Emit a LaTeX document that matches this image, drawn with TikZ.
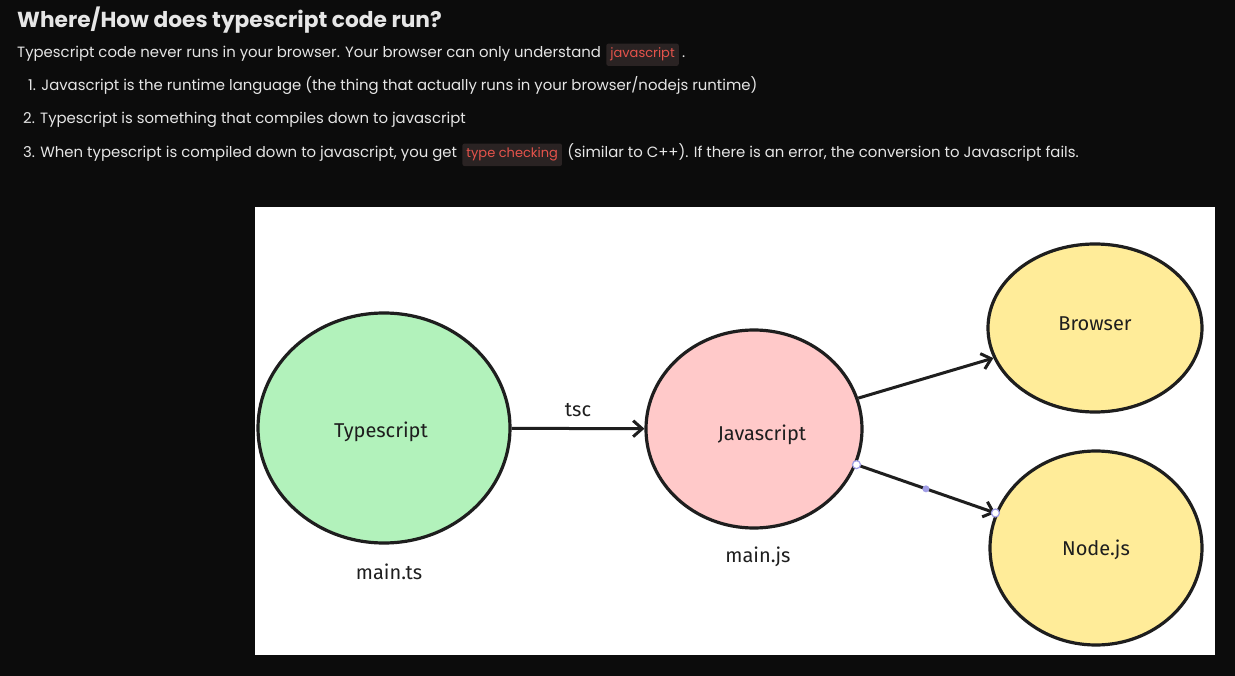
\documentclass[tikz,border=0pt]{standalone}
\usepackage{fontspec}
\setmainfont{Poppins}
\newfontfamily\handfont{Fira Sans}
\usetikzlibrary{arrows.meta,shapes.geometric}
\definecolor{bg}{HTML}{0C0C0C}
\definecolor{txt}{HTML}{E6E6E6}
\definecolor{chipbg}{HTML}{2A2323}
\definecolor{chiptx}{HTML}{E5534B}
\definecolor{ink}{HTML}{1E1E1E}
\definecolor{green}{HTML}{B2F2BB}
\definecolor{pink}{HTML}{FFC9C9}
\definecolor{yellow}{HTML}{FFEC99}
\definecolor{handle}{HTML}{A19EE6}
\tikzset{
  para/.style={anchor=base west, inner sep=0pt, text=txt, font=\fontsize{14.9}{16}\selectfont},
  chip/.style={anchor=base west, fill=chipbg, text=chiptx, rounded corners=2pt, inner xsep=4pt, inner ysep=4.5pt, font=\fontsize{13}{15}\selectfont},
  bubble/.style={ellipse, draw=ink, line width=3.2pt, inner sep=0pt},
  hand/.style={font=\handfont\fontsize{20}{22}\selectfont, text=ink, inner sep=0pt},
  arr/.style={draw=ink, line width=3pt, -{Straight Barb[length=9pt,width=16pt,line width=3pt]}},
  handlept/.style={circle, draw=handle, fill=white, line width=1.2pt, inner sep=0pt, minimum size=8pt},
  handlemid/.style={circle, fill=handle, inner sep=0pt, minimum size=7pt}
}
\begin{document}
\begin{tikzpicture}[x=1pt,y=-1pt]
\fill[bg] (0,0) rectangle (1235,676);
\useasboundingbox (0,0) rectangle (1235,676);
% heading text
\node[anchor=base west, inner sep=0pt, text=txt, font=\fontsize{21.7}{24}\selectfont\bfseries] (title) at (17,28) {Where/How does typescript code run?};
\node[para] (p1) at (17,58) {Typescript code never runs in your browser. Your browser can only understand};
\node[chip] (c1) at ([xshift=5pt]p1.base east) {javascript};
\node[para] (p1b) at ([xshift=3pt]c1.base east) {.};
\node[para] (l1) at (28,91) {1. Javascript is the runtime language (the thing that actually runs in your browser/nodejs runtime)};
\node[para] (l2) at (23,124) {2. Typescript is something that compiles down to javascript};
\node[para] (l3) at (23,158) {3. When typescript is compiled down to javascript, you get};
\node[chip] (c3) at ([xshift=5pt]l3.base east) {type checking};
\node[para] (l3b) at ([xshift=5pt]c3.base east) {(similar to C++). If there is an error, the conversion to Javascript fails.};
% white canvas
\fill[white] (255,207) rectangle (1215,655);
% bubbles
\node[bubble, fill=green, minimum width=252pt, minimum height=230pt] (ts) at (384,428) {};
\node[bubble, fill=pink, minimum width=216pt, minimum height=198pt] (js) at (754,429) {};
\node[bubble, fill=yellow, minimum width=214pt, minimum height=168pt] (br) at (1095,328) {};
\node[bubble, fill=yellow, minimum width=212pt, minimum height=194pt] (nj) at (1096,548) {};
% labels
\node[hand] (tsl) at (381,432) {Typescript};
\node[hand] (jsl) at (762,435) {Javascript};
\node[hand] (brl) at (1095,324) {Browser};
\node[hand] (njl) at (1096,550) {Node.js};
\node[hand] (tsf) at (389,572) {main.ts};
\node[hand] (jsf) at (758,557) {main.js};
% connectors
\draw[arr] (ts) -- node[hand, above=10pt] (tscl) {tsc} (js);
\draw[arr] (js) -- (br);
\draw[arr] (js) -- (nj);
\path (js) -- (nj) node[pos=0, handlept] (h1) {} node[pos=0.5, handlemid] (h2) {} node[pos=1, handlept] (h3) {};
\end{tikzpicture}
\end{document}
